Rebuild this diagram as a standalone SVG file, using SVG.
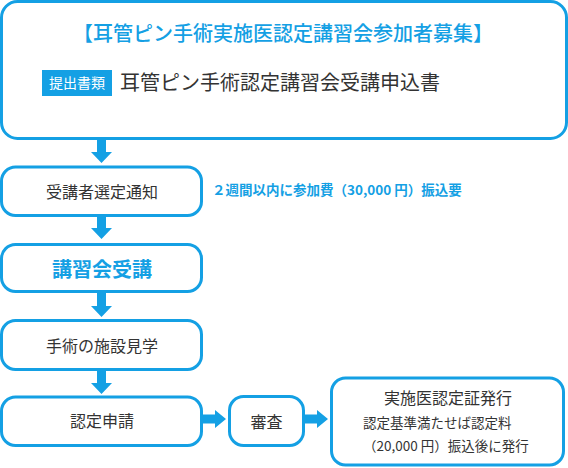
<svg xmlns="http://www.w3.org/2000/svg" width="568" height="468" viewBox="0 0 568 468">
<style>
.box{fill:#fff;stroke:#14a0e4;stroke-width:3}
.arr{fill:#14a0e4}
text{font-family:"Noto Sans CJK JP","Noto Sans",sans-serif}
.dk{fill:#333}
.bl{fill:#14a0e4}
.c{text-anchor:middle}
</style>
<rect width="568" height="468" fill="#fff"/>
<g id="connectors">
<polygon class="arr" points="97,140 106,140 106,152 112,152 101.5,163 91,152 97,152"/>
<polygon class="arr" points="97,217 106,217 106,228 112,228 101.5,239 91,228 97,228"/>
<polygon class="arr" points="97,293 106,293 106,306 112,306 101.5,317 91,306 97,306"/>
<polygon class="arr" points="97,371 106,371 106,383 112,383 101.5,394 91,383 97,383"/>
<polygon class="arr" points="203,414.5 215,414.5 215,410 226,419 215,428 215,423.5 203,423.5"/>
<polygon class="arr" points="305,414.5 317,414.5 317,410 328,419 317,428 317,423.5 305,423.5"/>
</g>
<g id="top">
<rect class="box" x="1.5" y="1.5" width="565" height="137" rx="16"/>
<text class="bl c" x="283" y="40.5" font-size="20" font-weight="500">【耳管ピン手術実施医認定講習会参加者募集】</text>
<rect x="42" y="70" width="70" height="26" fill="#14a0e4"/>
<text class="c" x="77" y="88.3" font-size="14" fill="#fff">提出書類</text>
<text class="dk" x="120" y="89.5" font-size="20">耳管ピン手術認定講習会受講申込書</text>
</g>
<g id="notify">
<rect class="box" x="1.5" y="167" width="200" height="48.5" rx="14"/>
<text class="dk c" x="102" y="197.8" font-size="16">受講者選定通知</text>
</g>
<g id="note">
<text class="bl" x="212" y="195.2" font-size="13.5" font-weight="700">２週間以内に参加費（30,000 円）振込要</text>
</g>
<g id="lecture">
<rect class="box" x="1.5" y="244.5" width="200" height="47" rx="14"/>
<text class="bl c" x="102" y="276.6" font-size="20" font-weight="700">講習会受講</text>
</g>
<g id="visit">
<rect class="box" x="1.5" y="320.5" width="200" height="49" rx="14"/>
<text class="dk c" x="102" y="352" font-size="16">手術の施設見学</text>
</g>
<g id="apply">
<rect class="box" x="1.5" y="397" width="200" height="48.5" rx="14"/>
<text class="dk c" x="102" y="427" font-size="16">認定申請</text>
</g>
<g id="review">
<rect class="box" x="229.5" y="396.5" width="74" height="49" rx="14"/>
<text class="dk c" x="266.5" y="427.5" font-size="16">審査</text>
</g>
<g id="issue">
<rect class="box" x="331.5" y="378" width="232" height="87" rx="14"/>
<text class="dk c" x="448" y="404" font-size="16">実施医認定証発行</text>
<text class="dk" x="363" y="428.2" font-size="13.5">認定基準満たせば認定料</text>
<text class="dk" x="363" y="451.2" font-size="13.5">（20,000 円）振込後に発行</text>
</g>
</svg>
